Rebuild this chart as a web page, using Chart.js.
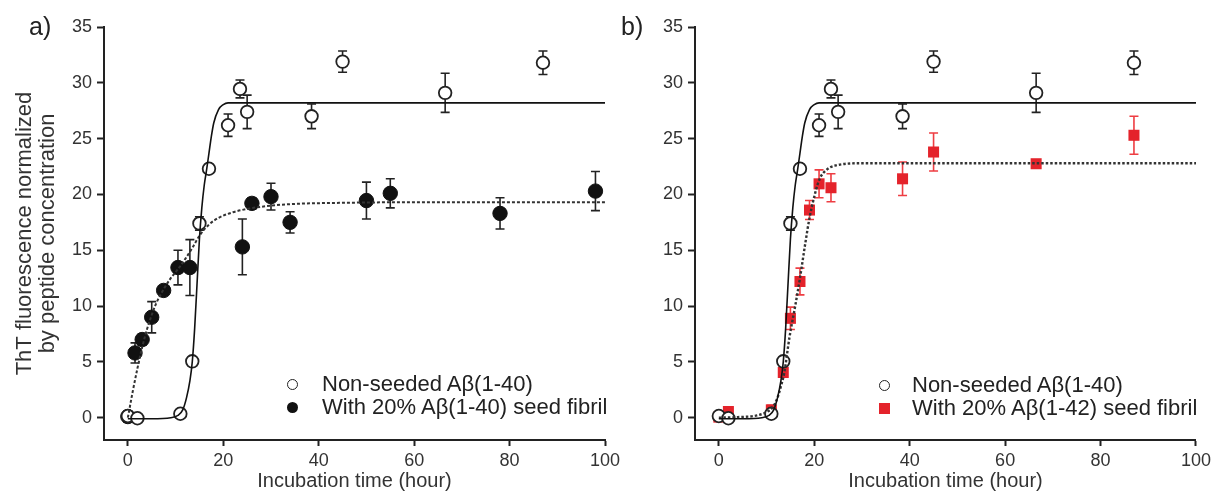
<!DOCTYPE html>
<html>
<head>
<meta charset="utf-8">
<script src="https://cdn.jsdelivr.net/npm/chart.js@4.4.1/dist/chart.umd.min.js"></script>
<style>
  body { margin: 0; background: #fff; }
  #wrap { position: relative; width: 1215px; height: 493px; overflow: hidden; font-family: 'Liberation Sans', Arial, sans-serif; color: #222; }
  canvas { position: absolute; top: 0; }
  .panel { position: absolute; font-size: 25px; line-height: 25px; }
  .lg { position: absolute; font-size: 22px; line-height: 24px; white-space: nowrap; }
  .mk { position: absolute; box-sizing: border-box; }
  .mk.open { width: 11px; height: 11px; border: 1.6px solid #222; border-radius: 50%; }
  .mk.filled { width: 11px; height: 11px; background: #111; border-radius: 50%; }
  .mk.square { width: 11px; height: 11px; background: #e4232b; }
</style>
</head>
<body>
<div id="wrap">
  <canvas id="chartA" width="640" height="493" style="left:0"></canvas>
  <canvas id="chartB" width="600" height="493" style="left:615px"></canvas>
  <div class="panel" style="left:29px; top:14px">a)</div>
  <div class="panel" style="left:621px; top:14px">b)</div>
</div>
<script>
const FONT = "'Liberation Sans', Arial, sans-serif";

// axis ticks
const xTicks = [0, 20, 40, 60, 80, 100];
const yTicks = [0, 5, 10, 15, 20, 25, 30, 35];

// non-seeded Abeta(1-40), both panels
const openTime = [0, 2, 11, 13.5, 15, 17, 21, 23.5, 25, 38.5, 45, 66.5, 87];
const openValue = [0.15, -0.05, 0.35, 5.05, 17.4, 22.3, 26.2, 29.45, 27.4, 27.0, 31.9, 29.1, 31.8];
const openErr = [0.35, 0.3, 0.3, 0.3, 0.6, 0.4, 1.0, 0.8, 1.5, 1.1, 0.95, 1.75, 1.05];

// with 20% Abeta(1-40) seed, panel a
const seed40Time = [0, 1.5, 3, 5, 7.5, 10.5, 13, 24, 26, 30, 34, 50, 55, 78, 98];
const seed40Value = [0.1, 5.8, 7.0, 9.0, 11.4, 13.45, 13.45, 15.3, 19.2, 19.8, 17.5, 19.45, 20.1, 18.3, 20.3];
const seed40Err = [0.5, 0.9, 0.5, 1.4, 0.4, 1.55, 2.5, 2.5, 0.5, 1.2, 0.95, 1.65, 1.3, 1.4, 1.75];

// with 20% Abeta(1-42) seed, panel b
const seed42Time = [0, 2, 11, 13.5, 15, 17, 19, 21, 23.5, 38.5, 45, 66.5, 87];
const seed42Value = [0.05, 0.55, 0.7, 4.05, 8.9, 12.2, 18.6, 20.95, 20.6, 21.4, 23.8, 22.75, 25.3];
const seed42Err = [0.2, 0.25, 0.4, 0.3, 1.0, 1.2, 0.85, 1.25, 1.25, 1.5, 1.7, 0.25, 1.7];

// fitted curves
const fitOpenTime = [0, 5, 9, 10.5, 11.5, 12.3, 13, 13.5, 14, 14.5, 15, 15.5, 16, 16.5, 17, 17.5, 18, 19, 20, 21, 23, 100];
const fitOpenValue = [-0.1, -0.1, 0, 0.2, 0.7, 1.8, 3.3, 5.0, 8.0, 12.0, 16.0, 18.8, 20.8, 22.2, 23.7, 25.2, 26.4, 27.6, 28.05, 28.2, 28.2, 28.2];

const fitSeed40Time = [0, 1, 2, 3, 4, 5, 6, 7.5, 9, 10.5, 12, 13.5, 15, 17, 19, 22, 25, 29, 35, 45, 60, 100];
const fitSeed40Value = [0, 2.3, 4.4, 6.3, 7.9, 9.2, 10.3, 11.5, 12.5, 13.3, 14.2, 15.2, 16.3, 17.3, 17.9, 18.4, 18.7, 18.95, 19.15, 19.25, 19.3, 19.3];

const fitSeed42Time = [0, 4, 8, 10, 11.3, 12.3, 13, 13.7, 14.8, 16, 17, 18, 19, 20, 20.7, 21.5, 22.3, 23.2, 24.5, 26.7, 30, 100];
const fitSeed42Value = [0, 0.05, 0.2, 0.5, 0.95, 1.8, 2.8, 4.0, 7.2, 10.0, 12.5, 15.3, 17.9, 19.8, 20.9, 21.7, 22.1, 22.4, 22.6, 22.75, 22.8, 22.8];

function toPoints(xs, ys) {
    return xs.map((x, i) => ({ x: x, y: ys[i] }));
}

// draws the vertical error bars with caps, under the markers
const errorBars = {
    id: 'errorBars',
    beforeDatasetsDraw(chart) {
        const { ctx, scales: { x, y } } = chart;
        chart.data.datasets.forEach(ds => {
            if (!ds.errors) return;
            ctx.save();
            ctx.strokeStyle = ds.errorColor;
            ctx.lineWidth = 1.6;
            ds.data.forEach((p, i) => {
                const e = ds.errors[i];
                const px = x.getPixelForValue(p.x);
                const top = y.getPixelForValue(p.y + e);
                const bot = y.getPixelForValue(p.y - e);
                ctx.beginPath();
                ctx.moveTo(px, top); ctx.lineTo(px, bot);
                ctx.moveTo(px - 4.5, top); ctx.lineTo(px + 4.5, top);
                ctx.moveTo(px - 4.5, bot); ctx.lineTo(px + 4.5, bot);
                ctx.stroke();
            });
            ctx.restore();
        });
    }
};

function openSet() {
    return {
        data: toPoints(openTime, openValue), errors: openErr, errorColor: '#222',
        pointStyle: 'circle', pointRadius: 6.3, pointBorderWidth: 1.8,
        pointBorderColor: '#222', pointBackgroundColor: '#fff', order: 1
    };
}

function fitSet(xs, ys, color, width, dash) {
    return {
        data: toPoints(xs, ys), showLine: true, pointRadius: 0,
        borderColor: color, borderWidth: width, borderDash: dash,
        cubicInterpolationMode: 'monotone', fill: false, order: 0
    };
}

function makeChart(id, datasets, yWidth, padRight, yTitle) {
    const tickFont = { family: FONT, size: 18 };
    return new Chart(document.getElementById(id), {
        type: 'scatter',
        data: { datasets: datasets },
        plugins: [errorBars],
        options: {
            responsive: false,
            devicePixelRatio: 1,
            animation: false,
            layout: { padding: { left: 0, top: 27, right: padRight, bottom: 0 } },
            plugins: { legend: { display: false }, tooltip: { enabled: false } },
            scales: {
                x: {
                    type: 'linear', min: -5, max: 100,
                    afterBuildTicks: s => { s.ticks = xTicks.map(v => ({ value: v })); },
                    afterFit: s => { s.height = 53; },
                    grid: { drawOnChartArea: false, tickLength: 6, tickColor: '#222', tickWidth: 2 },
                    border: { color: '#222', width: 2 },
                    ticks: { color: '#333', font: tickFont, padding: 4, maxRotation: 0 },
                    title: {
                        display: true, text: 'Incubation time (hour)', color: '#333',
                        font: { family: FONT, size: 20, lineHeight: 1.15 }, padding: { top: 0, bottom: 0 }
                    }
                },
                y: {
                    type: 'linear', min: -2, max: 35,
                    afterBuildTicks: s => { s.ticks = yTicks.map(v => ({ value: v })); },
                    afterFit: s => { s.width = yWidth; },
                    grid: { drawOnChartArea: false, tickLength: 7, tickColor: '#222', tickWidth: 2 },
                    border: { color: '#222', width: 2 },
                    ticks: { color: '#333', font: tickFont, padding: 5 },
                    title: yTitle ? {
                        display: true, text: yTitle, color: '#333',
                        font: { family: FONT, size: 22, lineHeight: 1.05 }, padding: { top: 13, bottom: 0 }
                    } : { display: false }
                }
            }
        }
    });
}

makeChart('chartA', [
    fitSet(fitOpenTime, fitOpenValue, '#111', 1.6, []),
    fitSet(fitSeed40Time, fitSeed40Value, '#333', 2, [3, 2]),
    openSet(),
    {
        data: toPoints(seed40Time, seed40Value), errors: seed40Err, errorColor: '#222',
        pointStyle: 'circle', pointRadius: 7.2, pointBorderWidth: 1,
        pointBorderColor: '#111', pointBackgroundColor: '#111', order: 1
    }
], 104, 35, ['ThT fluorescence normalized', 'by peptide concentration']);

makeChart('chartB', [
    fitSet(fitOpenTime, fitOpenValue, '#111', 1.6, []),
    fitSet(fitSeed42Time, fitSeed42Value, '#333', 2.4, [2.5, 2]),
    openSet(),
    {
        data: toPoints(seed42Time, seed42Value), errors: seed42Err, errorColor: '#ee3d42',
        pointStyle: 'rect', pointRadius: 7.8, pointBorderWidth: 0,
        pointBorderColor: '#e4232b', pointBackgroundColor: '#e4232b', order: 1
    }
], 80, 19, null);

// legends
function addLegend(markerX, textX, rows) {
    const wrap = document.getElementById('wrap');
    rows.forEach(r => {
        const mk = document.createElement('div');
        mk.className = 'mk ' + r.marker;
        mk.style.left = (markerX - 5.5) + 'px';
        mk.style.top = (r.y - 5.5) + 'px';
        wrap.appendChild(mk);
        const t = document.createElement('div');
        t.className = 'lg';
        t.textContent = r.label;
        t.style.left = textX + 'px';
        t.style.top = (r.y - 12) + 'px';
        wrap.appendChild(t);
    });
}

addLegend(292, 322, [
    { marker: 'open', label: 'Non-seeded A\u03b2(1-40)', y: 384 },
    { marker: 'filled', label: 'With 20% A\u03b2(1-40) seed fibril', y: 407 }
]);
addLegend(884, 912, [
    { marker: 'open', label: 'Non-seeded A\u03b2(1-40)', y: 385 },
    { marker: 'square', label: 'With 20% A\u03b2(1-42) seed fibril', y: 408 }
]);
</script>
</body>
</html>
